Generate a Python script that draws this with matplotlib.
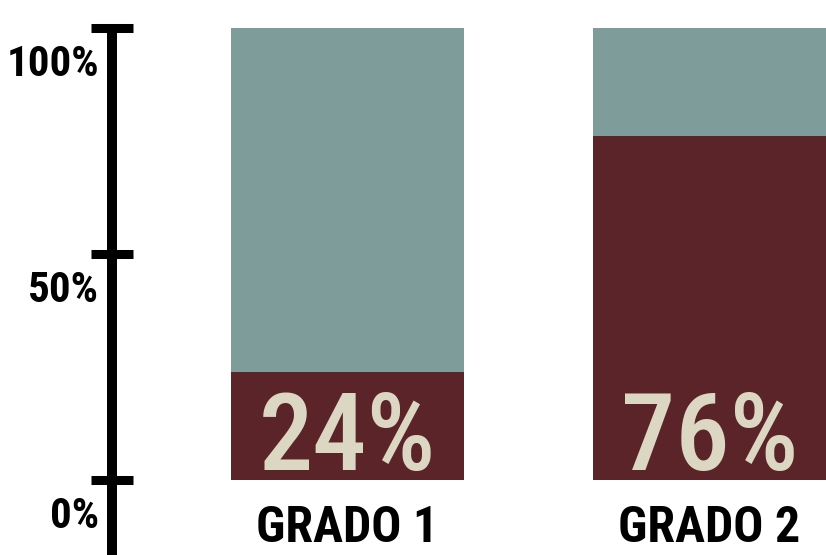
import matplotlib
matplotlib.use("Agg")
import matplotlib.pyplot as plt
from matplotlib.transforms import ScaledTranslation

# Share of each grade (percent)
categories = ["GRADO 1", "GRADO 2"]
share = [24, 76]
total = [100, 100]
tick_values = [0, 50, 100]
tick_labels = ["0%", "50%", "100%"]

MAROON = "#5b2428"
TEAL = "#7e9c99"
CREAM = "#dcd7c3"
FONT = ["Roboto Condensed", "DejaVu Sans"]

fig = plt.figure(figsize=(8.26, 5.55), dpi=100)
ax = fig.add_axes([0, 0, 1, 1])
ax.set_xlim(-0.96, 1.322)
ax.set_ylim(-16.6, 106.2)

x = list(range(len(categories)))
rest = [t - s for t, s in zip(total, share)]
ax.bar(x, share, width=0.644, color=MAROON, linewidth=0)
ax.bar(x, rest, bottom=share, width=0.644, color=TEAL, linewidth=0)

for xi, s, name in zip(x, share, categories):
    ax.annotate(f"{s}%", (xi, 0), xytext=(0, 7), textcoords="offset points",
                ha="center", va="baseline", color=CREAM, fontsize=78,
                fontweight="medium", family=FONT, fontstretch="condensed")
    ax.annotate(name, (xi, 0), xytext=(0, -45), textcoords="offset points",
                ha="center", va="baseline", color="black", fontsize=36,
                fontweight="bold", family=FONT, fontstretch="condensed")

# Vertical scale
for side in ("top", "right", "bottom"):
    ax.spines[side].set_visible(False)
ax.spines["left"].set_position(("data", -0.65))
ax.spines["left"].set_bounds(-16.6, 100)
ax.spines["left"].set_linewidth(7.2)
ax.spines["left"].set_capstyle("butt")
ax.set_xticks([])
ax.set_yticks(tick_values)
ax.set_yticklabels(tick_labels)
ax.tick_params(axis="y", direction="inout", length=30, width=6.5, pad=-5.5,
               labelsize=31)
shift = ScaledTranslation(0, -0.32, fig.dpi_scale_trans)
for lab in ax.get_yticklabels():
    lab.set_fontweight("bold")
    lab.set_family(FONT)
    lab.set_fontstretch("condensed")
    lab.set_transform(lab.get_transform() + shift)

fig.savefig("out.png", dpi=100, facecolor="white")
